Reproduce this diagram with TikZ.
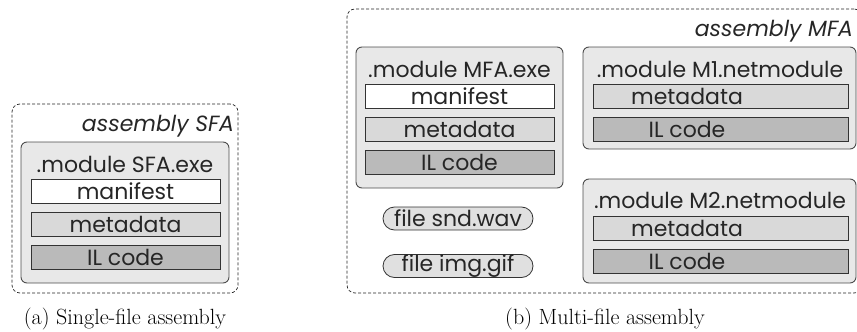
\documentclass[tikz,border=0pt]{standalone}
\usepackage{fontspec}
\setsansfont{Poppins}
\begin{document}
\begin{tikzpicture}[x=1pt,y=-1pt,
  every node/.style={inner sep=0pt, outer sep=0pt},
  asm/.style={draw=black!85, dash pattern=on 3pt off 2pt, rounded corners=8pt, line width=0.7pt},
  modbox/.style={draw=black!70, fill=black!9, rounded corners=6pt, line width=0.9pt},
  rowbox/.style={draw=black!80, line width=0.8pt, minimum height=24pt},
  manif/.style={rowbox, fill=white},
  meta/.style={rowbox, fill=black!15},
  ilc/.style={rowbox, fill=black!27},
  pill/.style={draw=black!80, fill=black!12, line width=0.8pt, rounded corners=11.5pt, minimum width=150pt, minimum height=23pt},
  lbl/.style={font=\sffamily\fontsize{22}{24}\selectfont, text=black!85},
  ttl/.style={font=\sffamily\itshape\fontsize{22}{24}\selectfont, text=black!85},
  captxt/.style={font=\rmfamily\fontsize{22}{24}\selectfont}
]
\useasboundingbox (0,0) rectangle (857,332);

% ---------- (a) single-file assembly ----------
\node[asm, minimum width=226pt, minimum height=189pt] (asmSFA) at (125,198.5) {};
\node[ttl, anchor=east] (tSFA) at (234,126) {assembly SFA};
\node[modbox, minimum width=208pt, minimum height=141pt] (modSFA) at (125,212.5) {};
\node[lbl] (hSFA) at (125,164) {.module SFA.exe};
\node[manif, minimum width=189pt] (manSFA) at (125.5,191) {};
\node[lbl] at (manSFA) {manifest};
\node[meta, minimum width=189pt] (metSFA) at (125.5,224) {};
\node[lbl] at (metSFA) {metadata};
\node[ilc, minimum width=189pt] (ilSFA) at (125.5,257) {};
\node[lbl] at (ilSFA) {IL code};
\node[captxt] (capA) at (125,319) {(a) Single-file assembly};

% ---------- (b) multi-file assembly ----------
\node[asm, minimum width=515pt, minimum height=284pt] (asmMFA) at (604.5,151) {};
\node[ttl, anchor=east] (tMFA) at (853,31) {assembly MFA};

\node[modbox, minimum width=207pt, minimum height=141pt] (modMFA) at (459.5,117.5) {};
\node[lbl] (hMFA) at (459.5,69) {.module MFA.exe};
\node[manif, minimum width=189pt] (manMFA) at (459.5,96) {};
\node[lbl] at (manMFA) {manifest};
\node[meta, minimum width=189pt] (metMFA) at (459.5,129.5) {};
\node[lbl] at (metMFA) {metadata};
\node[ilc, minimum width=189pt] (ilMFA) at (459.5,162) {};
\node[lbl] at (ilMFA) {IL code};

\node[modbox, minimum width=273pt, minimum height=102pt] (modM1) at (719.5,98) {};
\node[lbl] (hM1) at (720,69) {.module M1.netmodule};
\node[meta, minimum width=255pt] (metM1) at (720.5,96) {};
\node[lbl] at (687,96) {metadata};
\node[ilc, minimum width=255pt] (ilM1) at (720.5,129) {};
\node[lbl] at (687,129) {IL code};

\node[modbox, minimum width=273pt, minimum height=104pt] (modM2) at (719.5,231) {};
\node[lbl] (hM2) at (720,200) {.module M2.netmodule};
\node[meta, minimum width=255pt] (metM2) at (720.5,228.5) {};
\node[lbl] at (687,228.5) {metadata};
\node[ilc, minimum width=255pt] (ilM2) at (720.5,261) {};
\node[lbl] at (687,261) {IL code};

\node[pill] (snd) at (458,218.5) {};
\node[lbl] at (snd) {file snd.wav};
\node[pill] (img) at (458,266) {};
\node[lbl] at (img) {file img.gif};

\node[captxt] (capB) at (605,319) {(b) Multi-file assembly};
\end{tikzpicture}
\end{document}
